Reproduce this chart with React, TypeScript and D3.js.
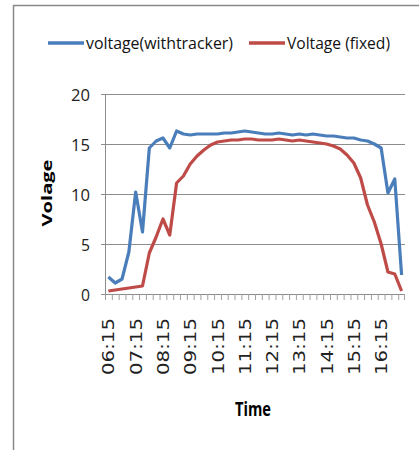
import React from "react";
import * as d3 from "d3";

const times: string[] = [];
for (let m = 6 * 60 + 15; m <= 17 * 60; m += 15) {
  const h = Math.floor(m / 60);
  const mm = m % 60;
  times.push(`${String(h).padStart(2, "0")}:${String(mm).padStart(2, "0")}`);
}

const trackerValues = [
  1.7, 1.1, 1.5, 4.2, 10.2, 6.2, 14.6, 15.3, 15.6, 14.6,
  16.3, 16.0, 15.9, 16.0, 16.0, 16.0, 16.0, 16.1, 16.1, 16.2,
  16.3, 16.2, 16.1, 16.0, 16.0, 16.1, 16.0, 15.9, 16.0, 15.9,
  16.0, 15.9, 15.8, 15.8, 15.7, 15.6, 15.6, 15.4, 15.3, 15.0,
  14.6, 10.1, 11.5, 1.9,
];

const fixedValues = [
  0.3, 0.4, 0.5, 0.6, 0.7, 0.8, 4.1, 5.7, 7.5, 5.9,
  11.1, 11.8, 13.0, 13.8, 14.4, 14.9, 15.2, 15.3, 15.4, 15.4,
  15.5, 15.5, 15.4, 15.4, 15.4, 15.5, 15.4, 15.3, 15.4, 15.3,
  15.2, 15.1, 15.0, 14.8, 14.5, 13.9, 13.1, 11.6, 8.9, 7.2,
  5.0, 2.2, 2.0, 0.3,
];

const yTicks = [0, 5, 10, 15, 20];
const seriesNames = ["voltage(withtracker)", "Voltage (fixed)"];
const colors = ["#4A7EBB", "#BE4B48"];

const narrow = "'Liberation Sans Narrow', 'Open Sans', sans-serif";

export default function App() {
  const W = 419, H = 450;
  const left = 105, right = 405, top = 94, bottom = 294;
  const x = d3.scaleBand<string>().domain(times).range([left, right]).padding(0);
  const y = d3.scaleLinear().domain([0, 20]).range([bottom, top]);
  const line = d3
    .line<number>()
    .x((_, i) => (x(times[i]) as number) + x.bandwidth() / 2)
    .y((d) => y(d));
  const labelIdx = times.map((_, i) => i).filter((i) => i % 4 === 0);

  return (
    <div style={{ position: "absolute", left: 0, top: 0 }}>
      <svg width={W} height={H} style={{ display: "block", background: "#fff" }}>
        <line x1={13.5} y1={5} x2={13.5} y2={H} stroke="#888" strokeWidth={1.5} />
        <line x1={13} y1={5.5} x2={W} y2={5.5} stroke="#888" strokeWidth={1.5} />

        {/* legend */}
        <g fontFamily={narrow} fontSize={16} fill="#111">
          <line x1={48} y1={43} x2={84} y2={43} stroke={colors[0]} strokeWidth={3.5} />
          <text x={86} y={48.5} textLength={147} lengthAdjust="spacingAndGlyphs">{seriesNames[0]}</text>
          <line x1={249} y1={43} x2={285} y2={43} stroke={colors[1]} strokeWidth={3.5} />
          <text x={287} y={48.5} textLength={103} lengthAdjust="spacingAndGlyphs">{seriesNames[1]}</text>
        </g>

        {/* gridlines */}
        {yTicks.filter((t) => t > 0).map((t) => (
          <line key={t} x1={left} x2={right} y1={y(t) + 0.5} y2={y(t) + 0.5} stroke="#8c8c8c" strokeWidth={1} />
        ))}
        {/* y axis */}
        <line x1={left + 0.5} x2={left + 0.5} y1={top} y2={bottom} stroke="#8c8c8c" />
        {yTicks.map((t) => (
          <g key={t}>
            <line x1={left - 4} x2={left} y1={y(t) + 0.5} y2={y(t) + 0.5} stroke="#8c8c8c" />
            <text x={90} y={y(t) + 6.5} textAnchor="end" fontFamily={narrow} fontSize={17} fill="#222"
              textLength={t >= 10 ? 19 : 9} lengthAdjust="spacingAndGlyphs">{t}</text>
          </g>
        ))}
        {/* x axis */}
        <line x1={left} x2={right} y1={bottom + 0.5} y2={bottom + 0.5} stroke="#8c8c8c" />
        {times.map((t) => (
          <line key={t} x1={(x(t) as number) + 0.5} x2={(x(t) as number) + 0.5} y1={bottom} y2={bottom + 6} stroke="#a0a0a0" />
        ))}
        <line x1={right - 0.5} x2={right - 0.5} y1={bottom} y2={bottom + 6} stroke="#a0a0a0" />
        {labelIdx.map((i) => {
          const cx = (x(times[i]) as number) + x.bandwidth() / 2;
          return (
            <text key={i} transform={`translate(${cx + 6},318) rotate(-90)`} textAnchor="end"
              fontFamily="'DejaVu Sans', sans-serif" fontSize={15} fill="#222"
              textLength={57} lengthAdjust="spacingAndGlyphs">{times[i]}</text>
          );
        })}

        {/* series */}
        <path d={line(trackerValues) || ""} fill="none" stroke={colors[0]} strokeWidth={3.2} strokeLinejoin="round" />
        <path d={line(fixedValues) || ""} fill="none" stroke={colors[1]} strokeWidth={3.2} strokeLinejoin="round" />

        {/* axis titles */}
        <text transform="translate(52,193) rotate(-90)" textAnchor="middle" fontFamily="'Open Sans', sans-serif"
          fontWeight="bold" fontSize={15} fill="#000" textLength={67} lengthAdjust="spacingAndGlyphs">Volage</text>
        <text x={253} y={416} textAnchor="middle" fontFamily={narrow} fontWeight="bold"
          fontSize={19} fill="#000" textLength={36} lengthAdjust="spacingAndGlyphs">Time</text>
      </svg>
    </div>
  );
}
